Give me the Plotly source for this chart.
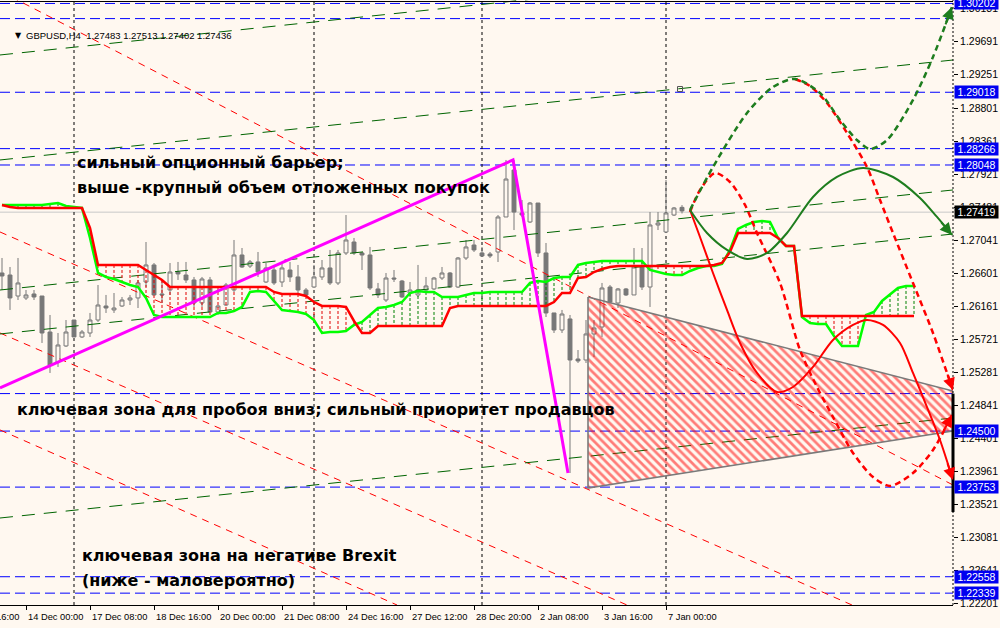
import plotly.graph_objects as go

BG = "#FFF8F0"

# ---------------- data ----------------
# H4 bars, bar 0 = 14 Dec 2018 00:00
FIRST_BAR = -3
candle_open = [1.26608, 1.26581, 1.26301, 1.26275, 1.26328, 1.26301, 1.25821, 1.25421, 1.25635, 1.25981,
               1.25755, 1.25808, 1.25981, 1.26168, 1.26115, 1.26168, 1.26248, 1.26275, 1.26488, 1.26715,
               1.26328, 1.26381, 1.26621, 1.26581, 1.26515, 1.26208, 1.26515, 1.26088, 1.26181, 1.26381,
               1.26848, 1.26701, 1.26755, 1.26488, 1.26648, 1.26488, 1.26648, 1.26555, 1.26381, 1.26421,
               1.26555, 1.26675, 1.26475, 1.26875, 1.27021, 1.26875, 1.26848, 1.26395, 1.26248, 1.26541,
               1.26501, 1.26341, 1.26315, 1.26381, 1.26395, 1.26541, 1.26608, 1.26421, 1.26808, 1.26981,
               1.26875, 1.26861, 1.26888, 1.27355, 1.27981, 1.27408, 1.27288, 1.27541, 1.26875, 1.26075,
               1.25848, 1.25995, 1.25461, 1.25448, 1.25795, 1.25888, 1.26421, 1.26208, 1.26395, 1.26315,
               1.26688, 1.26421, 1.27248, 1.27155, 1.27381, 1.27483]
candle_high = [1.26808, 1.26688, 1.26808, 1.26381, 1.26381, 1.26301, 1.26048, 1.25808, 1.25981, 1.25981,
               1.25848, 1.26075, 1.26448, 1.26315, 1.26341, 1.26288, 1.26315, 1.26515, 1.27021, 1.26741,
               1.26515, 1.26741, 1.26755, 1.26755, 1.26555, 1.26555, 1.26555, 1.26181, 1.26475, 1.27048,
               1.26941, 1.26781, 1.26888, 1.26741, 1.26715, 1.26741, 1.26755, 1.26715, 1.26408, 1.26715,
               1.26781, 1.26915, 1.26915, 1.27381, 1.27075, 1.26888, 1.26955, 1.26475, 1.26608, 1.26648,
               1.26515, 1.26488, 1.26715, 1.26555, 1.26555, 1.26688, 1.26621, 1.26821, 1.27048, 1.27048,
               1.26955, 1.26888, 1.27381, 1.28115, 1.28115, 1.27581, 1.27555, 1.27541, 1.27008, 1.26075,
               1.26115, 1.26048, 1.25581, 1.25981, 1.25981, 1.26475, 1.26448, 1.26408, 1.26408, 1.26941,
               1.26941, 1.27421, 1.27421, 1.27848, 1.27488, 1.27513]
candle_low = [1.26381, 1.26115, 1.26248, 1.26248, 1.26248, 1.25675, 1.25275, 1.25355, 1.25621, 1.25755,
              1.25741, 1.25755, 1.25955, 1.26075, 1.26075, 1.26155, 1.26181, 1.26141, 1.26421, 1.26315,
              1.26208, 1.26315, 1.26515, 1.26475, 1.26155, 1.26155, 1.26088, 1.26048, 1.26168, 1.26355,
              1.26675, 1.26675, 1.26555, 1.26475, 1.26448, 1.26421, 1.26488, 1.26341, 1.26288, 1.26408,
              1.26515, 1.26448, 1.26448, 1.26848, 1.26848, 1.26648, 1.26381, 1.26275, 1.26221, 1.26488,
              1.26275, 1.26288, 1.26288, 1.26341, 1.26381, 1.26515, 1.26408, 1.26408, 1.26781, 1.26888,
              1.26821, 1.26808, 1.26755, 1.27355, 1.27181, 1.27355, 1.27275, 1.26821, 1.26021, 1.25808,
              1.25808, 1.23941, 1.25408, 1.25408, 1.25488, 1.25755, 1.26208, 1.26141, 1.26301, 1.26315,
              1.26381, 1.26155, 1.27181, 1.27141, 1.27368, 1.27402]
candle_close = [1.26568, 1.26275, 1.26475, 1.26315, 1.26288, 1.25808, 1.25381, 1.25648, 1.25821, 1.25755,
                1.25821, 1.25981, 1.26181, 1.26141, 1.26141, 1.26248, 1.26275, 1.26475, 1.26715, 1.26315,
                1.26315, 1.26621, 1.26595, 1.26515, 1.26208, 1.26528, 1.26088, 1.26168, 1.26448, 1.26848,
                1.26688, 1.26755, 1.26621, 1.26675, 1.26475, 1.26675, 1.26555, 1.26381, 1.26315, 1.26555,
                1.26675, 1.26475, 1.26875, 1.27048, 1.26875, 1.26848, 1.26408, 1.26315, 1.26541, 1.26528,
                1.26288, 1.26381, 1.26381, 1.26435, 1.26541, 1.26608, 1.26421, 1.26808, 1.26955, 1.26915,
                1.26835, 1.26835, 1.27355, 1.27861, 1.27421, 1.27381, 1.27541, 1.26875, 1.26075, 1.25848,
                1.26061, 1.25448, 1.25435, 1.25795, 1.25875, 1.26408, 1.26221, 1.26395, 1.26315, 1.26688,
                1.26421, 1.27248, 1.27275, 1.27408, 1.27475, 1.27436]
bars = list(range(FIRST_BAR, FIRST_BAR + len(candle_open)))

# Ichimoku cloud spans (shifted 26 bars ahead), bars -3 .. 111
span_red = [1.27515, 1.27488, 1.27475, 1.27475, 1.27475, 1.27475, 1.27475, 1.27475, 1.27475, 1.27475,
            1.27475, 1.27208, 1.26715, 1.26715, 1.26715, 1.26715, 1.26715, 1.26715, 1.26648, 1.26581,
            1.26515, 1.26421, 1.26421, 1.26421, 1.26421, 1.26421, 1.26421, 1.26421, 1.26421, 1.26421,
            1.26421, 1.26421, 1.26421, 1.26421, 1.26355, 1.26328, 1.26328, 1.26328, 1.26301, 1.26221,
            1.26168, 1.26168, 1.26168, 1.26155, 1.25968, 1.25808, 1.25808, 1.25901, 1.25901, 1.25901,
            1.25901, 1.25901, 1.25901, 1.25901, 1.25901, 1.25901, 1.26141, 1.26168, 1.26168, 1.26168,
            1.26168, 1.26168, 1.26168, 1.26168, 1.26168, 1.26168, 1.26168, 1.26168, 1.26168, 1.26221,
            1.26341, 1.26341, 1.26541, 1.26555, 1.26621, 1.26661, 1.26688, 1.26701, 1.26701, 1.26701,
            1.26701, 1.26701, 1.26701, 1.26701, 1.26701, 1.26701, 1.26701, 1.26701, 1.26701, 1.26715,
            1.26741, 1.26888, 1.27141, 1.27141, 1.27141, 1.27141, 1.27141, 1.27075, 1.26968, 1.26968,
            1.26035, 1.26035, 1.26035, 1.26035, 1.26035, 1.26035, 1.26035, 1.26035, 1.26035, 1.26035,
            1.26035, 1.26035, 1.26035, 1.26035, 1.26035]
span_green = [1.27515, 1.27515, 1.27515, 1.27515, 1.27515, 1.27515, 1.27528, 1.27541, 1.27501, 1.27488,
              1.27475, 1.27075, 1.26608, 1.26555, 1.26528, 1.26488, 1.26448, 1.26421, 1.26275, 1.26048,
              1.26021, 1.26021, 1.26021, 1.26021, 1.26021, 1.26021, 1.26021, 1.26075, 1.26075, 1.26101,
              1.26155, 1.26355, 1.26368, 1.26355, 1.26235, 1.26115, 1.26101, 1.26088, 1.26061, 1.25981,
              1.25808, 1.25821, 1.25821, 1.25835, 1.25915, 1.25955, 1.26048, 1.26141, 1.26155, 1.26181,
              1.26221, 1.26341, 1.26368, 1.26355, 1.26355, 1.26288, 1.26288, 1.26288, 1.26315, 1.26341,
              1.26341, 1.26355, 1.26355, 1.26355, 1.26355, 1.26355, 1.26475, 1.26501, 1.26488, 1.26541,
              1.26555, 1.26555, 1.26715, 1.26741, 1.26755, 1.26768, 1.26768, 1.26768, 1.26768, 1.26768,
              1.26768, 1.26648, 1.26621, 1.26595, 1.26581, 1.26581, 1.26635, 1.26675, 1.26701, 1.26701,
              1.26728, 1.26915, 1.27195, 1.27248, 1.27288, 1.27301, 1.27288, 1.27075, 1.26968, 1.26968,
              1.26021, 1.25941, 1.25928, 1.25928, 1.25768, 1.25635, 1.25635, 1.25635, 1.26048, 1.26088,
              1.26235, 1.26328, 1.26408, 1.26435, 1.26435]
span_bars = list(range(-3, -3 + len(span_red)))

x_label_bars = [-8, 0, 8, 16, 24, 32, 40, 48, 56, 64, 72, 80]
x_label_text = ["12 Dec 16:00", "14 Dec 00:00", "17 Dec 08:00", "18 Dec 16:00", "20 Dec 00:00",
                "21 Dec 08:00", "24 Dec 16:00", "27 Dec 12:00", "28 Dec 20:00", "2 Jan 08:00",
                "3 Jan 16:00", "7 Jan 00:00"]
separator_bars = [6, 36, 57, 80]

y_tick_vals = [1.30131, 1.29691, 1.29251, 1.28801, 1.28361, 1.27921, 1.27481, 1.27041, 1.26601,
               1.26161, 1.25721, 1.25281, 1.24841, 1.24401, 1.23961, 1.23521, 1.23081, 1.22641, 1.22201]
y_tick_text = ["%.5f" % v for v in y_tick_vals]

level_prices = [1.30202, 1.30000, 1.29018, 1.28266, 1.28048, 1.25000, 1.24500, 1.23753, 1.22558, 1.22339]
labelled_levels = [1.30202, 1.29018, 1.28266, 1.28048, 1.24500, 1.23753, 1.22558, 1.22339]
current_price = 1.27419
header_text = "GBPUSD,H4  1.27483 1.27513 1.27402 1.27436"

X_MIN, X_MAX = -3.25, 115.875
Y_MIN, Y_MAX = 1.22181, 1.30248

# rising dark-green channel lines (price at left edge, price at right edge)
channel_up_left = [1.29515, 1.28115, 1.26381, 1.25795, 1.23341]
channel_up_right = [1.30848, 1.29448, 1.27715, 1.27128, 1.24675]
# falling red channel lines: (bar0, price0, bar1, price1)
channel_down = [(-3.25, 1.30368, 115.875, 1.23781),
                (-3.25, 1.27155, 103.25, 1.22181),
                (-3.25, 1.25808, 75.125, 1.22181),
                (-3.25, 1.24515, 46.375, 1.22181)]

zigzag_bars = [-3.25, 60.875, 67.75]
zigzag_prices = [1.25075, 1.28115, 1.23941]

triangle_bars = [70.25, 115.875, 115.875, 70.25]
triangle_prices = [1.26288, 1.25035, 1.24501, 1.23741]

fc_green_dash_bars = [83, 85.875, 90.125, 93.375, 96.125, 99.25, 101.75, 103.875, 105.5, 107.625, 110.875, 113.375, 115.75]
fc_green_dash_prices = [1.27448, 1.28021, 1.28741, 1.29088, 1.29195, 1.29008, 1.28648, 1.28381, 1.28261, 1.28381, 1.28915, 1.29488, 1.30155]
fc_red_dash1_bars = [83, 84.25, 86.125, 88, 89.875, 91.375, 94.25, 96.75, 98.875, 100.875, 103.375, 105.875, 108, 110.875, 113.375, 115.75]
fc_red_dash1_prices = [1.27421, 1.27715, 1.27941, 1.27821, 1.27515, 1.27141, 1.26475, 1.25581, 1.25088, 1.24688, 1.24208, 1.23888, 1.23768, 1.23941, 1.24248, 1.24715]
fc_red_dash2_bars = [96.125, 98, 100.125, 102.625, 105.125, 106.75, 108.375, 110.875, 113.375, 115.125, 115.875]
fc_red_dash2_prices = [1.29195, 1.29101, 1.28875, 1.28475, 1.28021, 1.27581, 1.27141, 1.26475, 1.25808, 1.25275, 1.25048]
fc_green_solid_bars = [83, 85.125, 87.625, 90.125, 92.625, 95.125, 98.375, 101.375, 104.625, 108.375, 111.75, 113.875, 115.75]
fc_green_solid_prices = [1.27448, 1.27141, 1.26915, 1.26795, 1.26875, 1.27141, 1.27621, 1.27888, 1.28008, 1.27888, 1.27608, 1.27355, 1.27115]
fc_red_solid_bars = [83, 84.25, 85.875, 87.625, 89.25, 91.375, 93.875, 95.875, 98.375, 100.875, 103.375, 105.125, 107.125, 109.25, 110.875, 112.625, 114.25, 115.875]
fc_red_solid_prices = [1.27448, 1.27088, 1.26608, 1.26115, 1.25675, 1.25275, 1.25021, 1.25088, 1.25355, 1.25715, 1.25915, 1.25981, 1.25915, 1.25675, 1.25275, 1.24821, 1.24381, 1.23848]

marker_bar, marker_price = 81.75, 1.29061

notes = [("сильный опционный барьер;", 75, 162),
         ("выше -крупный объем отложенных покупок", 75, 187),
         ("ключевая зона для пробоя вниз; сильный приоритет продавцов", 15, 409),
         ("ключевая зона на негативе Brexit", 80, 555),
         ("(ниже - маловероятно)", 80, 580)]

# ---------------- figure ----------------
PLOT_W, PLOT_H = 953, 605
fig = go.Figure()

# falling red channel lines
for b0, p0, b1, p1 in channel_down:
    fig.add_trace(go.Scatter(x=[b0, b1], y=[p0, p1], mode="lines",
                             line=dict(color="#FF0000", width=1, dash="7px,6px"),
                             hoverinfo="skip", showlegend=False))
# rising green channel lines
for pl, pr in zip(channel_up_left, channel_up_right):
    fig.add_trace(go.Scatter(x=[X_MIN, X_MAX], y=[pl, pr], mode="lines",
                             line=dict(color="#006400", width=1, dash="13px,9px"),
                             hoverinfo="skip", showlegend=False))

# hatched triangle
fig.add_trace(go.Scatter(x=triangle_bars + [triangle_bars[0]], y=triangle_prices + [triangle_prices[0]],
                         mode="lines", fill="toself", fillcolor="rgba(0,0,0,0)",
                         fillpattern=dict(shape="\\", fgcolor="#FF0000", bgcolor="rgba(0,0,0,0)",
                                          size=6, solidity=0.45),
                         line=dict(color="#7A7A7A", width=1.6), hoverinfo="skip", showlegend=False))

# candles
fig.add_trace(go.Candlestick(x=bars, open=candle_open, high=candle_high, low=candle_low, close=candle_close,
                             increasing=dict(line=dict(color="#787878", width=1), fillcolor=BG),
                             decreasing=dict(line=dict(color="#787878", width=1), fillcolor="#787878"),
                             whiskerwidth=0, hoverinfo="skip", showlegend=False))

# cloud hatch
hx_r, hy_r, hx_g, hy_g = [], [], [], []
for b, r, g in zip(span_bars, span_red, span_green):
    if abs(r - g) < 1e-6:
        continue
    if r > g:
        hx_r += [b, b, None]; hy_r += [r, g, None]
    else:
        hx_g += [b, b, None]; hy_g += [g, r, None]
fig.add_trace(go.Scatter(x=hx_r, y=hy_r, mode="lines", line=dict(color="#E00000", width=1, dash="3px,2px"),
                         hoverinfo="skip", showlegend=False))
fig.add_trace(go.Scatter(x=hx_g, y=hy_g, mode="lines", line=dict(color="#008000", width=1, dash="3px,2px"),
                         hoverinfo="skip", showlegend=False))
fig.add_trace(go.Scatter(x=span_bars, y=span_green, mode="lines", line=dict(color="#00FF00", width=2.5),
                         hoverinfo="skip", showlegend=False))
fig.add_trace(go.Scatter(x=span_bars, y=span_red, mode="lines", line=dict(color="#FF0000", width=2.5),
                         hoverinfo="skip", showlegend=False))

# magenta zigzag
fig.add_trace(go.Scatter(x=zigzag_bars, y=zigzag_prices, mode="lines", line=dict(color="#FF00FF", width=3),
                         hoverinfo="skip", showlegend=False))

# forecast paths
def path(bx, py, color, dash, width):
    fig.add_trace(go.Scatter(x=bx, y=py, mode="lines",
                             line=dict(color=color, width=width, dash=dash, shape="spline", smoothing=0.8),
                             hoverinfo="skip", showlegend=False))

path(fc_red_solid_bars, fc_red_solid_prices, "#FF0000", "solid", 2)
path(fc_red_dash1_bars, fc_red_dash1_prices, "#FF0000", "6px,4px", 2.5)
path(fc_red_dash2_bars, fc_red_dash2_prices, "#FF0000", "6px,4px", 2.5)
path(fc_green_solid_bars, fc_green_solid_prices, "#1E7D1E", "solid", 2)
path(fc_green_dash_bars, fc_green_dash_prices, "#1E7D1E", "6px,4px", 2.5)

fig.add_trace(go.Scatter(x=[marker_bar], y=[marker_price], mode="markers",
                         marker=dict(symbol="square-open", size=5, color="#555555", line=dict(width=1)),
                         hoverinfo="skip", showlegend=False))

shapes = []
# level lines
for lv in level_prices:
    shapes.append(dict(type="line", xref="paper", yref="y", x0=0, x1=1, y0=lv, y1=lv,
                       line=dict(color="#0000FF", width=1, dash="10px,5px"), layer="below"))
shapes.append(dict(type="line", xref="paper", yref="y", x0=0, x1=1, y0=current_price, y1=current_price,
                   line=dict(color="#C8C8C8", width=1), layer="below"))
for sb in separator_bars:
    shapes.append(dict(type="line", xref="x", yref="paper", x0=sb, x1=sb, y0=0, y1=1,
                       line=dict(color="#000000", width=1, dash="3px,3px"), layer="below"))
shapes.append(dict(type="line", xref="paper", yref="paper", x0=1, x1=1, y0=0, y1=1,
                   line=dict(color="#000000", width=1, dash="2px,2px")))
shapes.append(dict(type="line", xref="paper", yref="y", x0=1, x1=1, y0=1.25000, y1=1.23421,
                   line=dict(color="#000000", width=3)))
shapes.append(dict(type="line", xref="paper", yref="paper", x0=0, x1=1, y0=1 - 1.5 / PLOT_H, y1=1 - 1.5 / PLOT_H,
                   line=dict(color="#000000", width=1)))

ann = []
for t, px, py in notes:
    ann.append(dict(text=t, xref="paper", yref="paper", x=px / PLOT_W, y=1 - py / PLOT_H,
                    xanchor="left", yanchor="middle", showarrow=False,
                    font=dict(family="DejaVu Sans", size=16, color="#000000", weight="bold")))
ann.append(dict(text="▼", xref="paper", yref="paper", x=13 / PLOT_W, y=1 - 36 / PLOT_H,
                xanchor="left", yanchor="middle", showarrow=False,
                font=dict(family="DejaVu Sans", size=8, color="#000000")))
ann.append(dict(text=header_text, xref="paper", yref="paper", x=24 / PLOT_W, y=1 - 35 / PLOT_H,
                xanchor="left", yanchor="middle", showarrow=False,
                font=dict(family="Liberation Sans", size=9.5, color="#000000")))
for b, t in zip(x_label_bars, x_label_text):
    ann.append(dict(text=t, xref="paper", yref="paper", x=(b - X_MIN) / (X_MAX - X_MIN), y=0, yshift=-5,
                    xanchor="left", yanchor="top", showarrow=False,
                    font=dict(family="Liberation Sans", size=9.3, color="#000000")))
for lv in labelled_levels:
    ann.append(dict(text="%.5f" % lv, xref="paper", yref="y", x=1, y=lv, xshift=1, xanchor="left",
                    yanchor="middle", showarrow=False, bgcolor="#0000F0", width=43, height=12, borderpad=0,
                    font=dict(family="Liberation Sans", size=10.5, color="#FFFFFF")))
ann.append(dict(text="%.5f" % current_price, xref="paper", yref="y", x=1, y=current_price, xshift=1,
                xanchor="left", yanchor="middle", showarrow=False, bgcolor="#000000", width=43, height=12,
                borderpad=0, font=dict(family="Liberation Sans", size=10.5, color="#FFFFFF")))

# arrowheads at the ends of the forecast paths
for bx, py, col, ax, ay in [(fc_green_dash_bars, fc_green_dash_prices, "#1E7D1E", -7, 19),
                            (fc_green_solid_bars, fc_green_solid_prices, "#1E7D1E", -12, -14),
                            (fc_red_solid_bars, fc_red_solid_prices, "#FF0000", -6, -18),
                            (fc_red_dash1_bars, fc_red_dash1_prices, "#FF0000", -9, 17),
                            (fc_red_dash2_bars, fc_red_dash2_prices, "#FF0000", -6, -17)]:
    ann.append(dict(text="", x=bx[-1], y=py[-1], xref="x", yref="y", ax=ax, ay=ay, showarrow=True,
                    arrowhead=2, arrowsize=1.2, arrowwidth=2, arrowcolor=col))

fig.update_layout(
    width=1000, height=628, margin=dict(l=0, r=47, t=0, b=23),
    paper_bgcolor=BG, plot_bgcolor=BG, showlegend=False,
    shapes=shapes, annotations=ann,
    xaxis=dict(range=[X_MIN, X_MAX], showgrid=False, zeroline=False, showline=True, linecolor="#000000",
               linewidth=1, ticks="outside", tickvals=x_label_bars, ticklen=4, tickcolor="#000000",
               showticklabels=False, rangeslider=dict(visible=False), fixedrange=True),
    yaxis=dict(range=[Y_MIN, Y_MAX], side="right", showgrid=False, zeroline=False, showline=False,
               ticks="outside", ticklen=4, tickcolor="#000000", tickvals=y_tick_vals, ticktext=y_tick_text,
               tickfont=dict(family="Liberation Sans", size=10.5, color="#000000"), fixedrange=True),
)

fig.write_html("out.html", config={"displayModeBar": False},
               post_script="document.body.style.margin='0px';document.body.style.overflow='hidden';")
